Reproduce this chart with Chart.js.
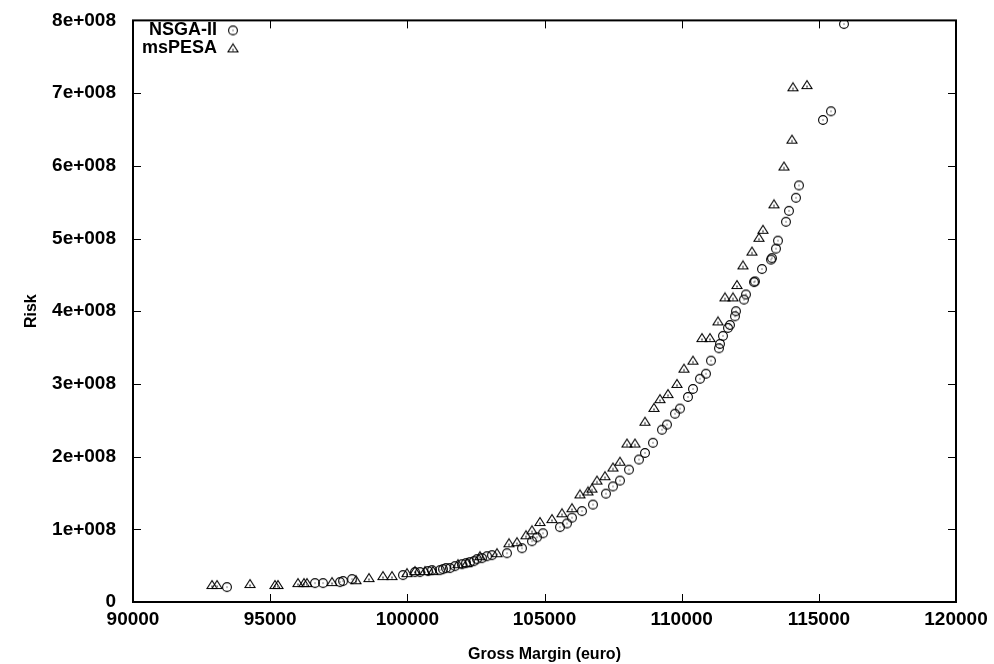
<!DOCTYPE html>
<html>
<head>
<meta charset="utf-8">
<script src="https://cdn.jsdelivr.net/npm/chart.js@4.4.0/dist/chart.umd.min.js"></script>
<style>
  html, body { margin: 0; padding: 0; background: #fff; }
  #wrap { width: 994px; height: 664px; }
</style>
</head>
<body>
<div id="wrap"><canvas id="paretoChart"></canvas></div>
<script>
// Pareto fronts: gross margin vs risk

const nsgaX = [93426, 96634, 96926, 97545, 97655, 97983, 99842, 100279, 100461, 100753,
  100899, 101190, 101300, 101409, 101555, 101737, 101992, 102138, 102284, 102429,
  102539, 102721, 102903, 103086, 103632, 104179, 104544, 104726, 104945, 105564,
  105819, 106002, 106366, 106767, 107241, 107496, 107751, 108079, 108444, 108662,
  108954, 109282, 109464, 109756, 109938, 110230, 110412, 110667, 110886, 111068,
  111360, 111396, 111506, 111688, 111761, 111943, 111979, 112271, 112344, 112635,
  112672, 112927, 113255, 113292, 113437, 113510, 113802, 113911, 114166, 114276,
  115150, 115442, 115916];
const nsgaY = [2.05e7, 2.6e7, 2.6e7, 2.74e7, 2.88e7, 3.15e7, 3.7e7, 4.11e7, 4.11e7, 4.25e7,
  4.38e7, 4.38e7, 4.52e7, 4.66e7, 4.66e7, 4.93e7, 5.2e7, 5.34e7, 5.48e7, 5.62e7,
  5.89e7, 6.03e7, 6.3e7, 6.44e7, 6.71e7, 7.4e7, 8.36e7, 8.9e7, 9.45e7, 1.03e8,
  1.08e8, 1.16e8, 1.25e8, 1.34e8, 1.49e8, 1.59e8, 1.67e8, 1.82e8, 1.96e8, 2.05e8,
  2.19e8, 2.37e8, 2.44e8, 2.59e8, 2.66e8, 2.82e8, 2.93e8, 3.07e8, 3.14e8, 3.32e8,
  3.49e8, 3.55e8, 3.66e8, 3.77e8, 3.81e8, 3.93e8, 4.0e8, 4.16e8, 4.23e8, 4.4e8,
  4.41e8, 4.58e8, 4.71e8, 4.73e8, 4.86e8, 4.97e8, 5.23e8, 5.38e8, 5.56e8, 5.73e8,
  6.63e8, 6.75e8, 7.95e8];

const pesaX = [92880, 93062, 94265, 95176, 95285, 96014, 96233, 96342, 97254, 98128,
  98602, 99113, 99441, 99987, 100279, 100643, 100935, 101846, 102174, 102648,
  103268, 103705, 103997, 104325, 104544, 104835, 105273, 105637, 106002, 106293,
  106585, 106731, 106913, 107204, 107496, 107751, 108006, 108298, 108662, 108990,
  109209, 109500, 109829, 110084, 110412, 110740, 111032, 111323, 111578, 111870,
  112016, 112235, 112563, 112818, 112964, 113365, 113729, 114021, 114058, 114567];
const pesaY = [2.33e7, 2.33e7, 2.47e7, 2.33e7, 2.33e7, 2.6e7, 2.6e7, 2.6e7, 2.74e7, 3.0e7,
  3.29e7, 3.56e7, 3.56e7, 3.97e7, 4.25e7, 4.25e7, 4.25e7, 5.2e7, 5.34e7, 6.3e7,
  6.71e7, 8.08e7, 8.22e7, 9.18e7, 9.86e7, 1.1e8, 1.14e8, 1.22e8, 1.29e8, 1.48e8,
  1.52e8, 1.56e8, 1.67e8, 1.73e8, 1.85e8, 1.93e8, 2.18e8, 2.18e8, 2.48e8, 2.67e8,
  2.79e8, 2.86e8, 3.0e8, 3.21e8, 3.32e8, 3.63e8, 3.63e8, 3.86e8, 4.19e8, 4.19e8,
  4.36e8, 4.63e8, 4.82e8, 5.01e8, 5.12e8, 5.47e8, 5.99e8, 6.36e8, 7.08e8, 7.11e8];

const seriesNames = ['NSGA-II', 'msPESA'];
const xTitle = 'Gross Margin (euro)';
const yTitle = 'Risk';

const FONT = '"Liberation Sans", Arial, sans-serif';

// gnuplot-like point symbols
function circleMark() {
    const c = document.createElement('canvas');
    c.width = 12; c.height = 12;
    const g = c.getContext('2d');
    g.strokeStyle = '#000';
    g.lineWidth = 1.1;
    g.beginPath();
    g.arc(6, 6, 4.4, 0, Math.PI * 2);
    g.stroke();
    g.fillStyle = '#000';
    g.fillRect(5.5, 5.5, 1, 1);
    return c;
}

function triangleMark() {
    const c = document.createElement('canvas');
    c.width = 12; c.height = 12;
    const g = c.getContext('2d');
    g.strokeStyle = '#000';
    g.lineWidth = 1.1;
    g.beginPath();
    g.moveTo(6, 1.5);
    g.lineTo(1, 9.5);
    g.lineTo(11, 9.5);
    g.closePath();
    g.stroke();
    g.fillStyle = '#777';
    g.fillRect(5, 6.5, 2, 2);
    return c;
}

const marks = [circleMark(), triangleMark()];

function toPoints(xs, ys) {
    return xs.map((x, i) => ({ x: x, y: ys[i] }));
}

function expLabel(v) {
    if (v === 0) return '0';
    return Math.round(v / 1e8) + 'e+008';
}

// border box, inward ticks on all four sides, legend in the top-left corner
const framePlugin = {
    id: 'frame',
    afterDraw(chart) {
        const ctx = chart.ctx;
        const a = chart.chartArea;
        const xs = chart.scales.x;
        const ys = chart.scales.y;
        const len = 8;
        ctx.save();
        ctx.strokeStyle = '#000';
        ctx.lineWidth = 2;
        ctx.strokeRect(a.left, a.top, a.right - a.left, a.bottom - a.top);
        ctx.lineWidth = 1;
        ctx.beginPath();
        xs.ticks.forEach(t => {
            const p = Math.round(xs.getPixelForValue(t.value)) + 0.5;
            ctx.moveTo(p, a.bottom); ctx.lineTo(p, a.bottom - len);
            ctx.moveTo(p, a.top); ctx.lineTo(p, a.top + len);
        });
        ys.ticks.forEach(t => {
            const p = Math.round(ys.getPixelForValue(t.value)) + 0.5;
            ctx.moveTo(a.left, p); ctx.lineTo(a.left + len, p);
            ctx.moveTo(a.right, p); ctx.lineTo(a.right - len, p);
        });
        ctx.stroke();

        ctx.font = 'bold 18px ' + FONT;
        ctx.fillStyle = '#000';
        ctx.textAlign = 'right';
        ctx.textBaseline = 'middle';
        chart.data.datasets.forEach((ds, i) => {
            const y = a.top + 10 + i * 18;
            ctx.fillText(ds.label, a.left + 84, y);
            ctx.drawImage(ds.pointStyle, a.left + 94, y - 6);
        });
        ctx.restore();
    }
};

document.addEventListener('DOMContentLoaded', function() {
    const canvas = document.getElementById('paretoChart');
    const ctx = canvas.getContext('2d');

    new Chart(ctx, {
        type: 'scatter',
        data: {
            datasets: [
                {
                    label: seriesNames[0],
                    data: toPoints(nsgaX, nsgaY),
                    pointStyle: marks[0],
                    pointRadius: 5
                },
                {
                    label: seriesNames[1],
                    data: toPoints(pesaX, pesaY),
                    pointStyle: marks[1],
                    pointRadius: 5
                }
            ]
        },
        options: {
            responsive: true,
            maintainAspectRatio: false,
            animation: false,
            layout: {
                padding: { left: 22, right: 38, top: 18, bottom: 0 }
            },
            scales: {
                x: {
                    type: 'linear',
                    min: 90000,
                    max: 120000,
                    grid: { display: false },
                    border: { display: false },
                    ticks: {
                        stepSize: 5000,
                        color: '#000',
                        padding: -2,
                        maxRotation: 0,
                        font: { family: FONT, size: 19, weight: 'bold' },
                        callback: v => String(v)
                    },
                    title: {
                        display: true,
                        text: xTitle,
                        color: '#000',
                        padding: { top: 6, bottom: 0 },
                        font: { family: FONT, size: 16, weight: 'bold' }
                    },
                    afterFit: s => { s.height = 62; }
                },
                y: {
                    type: 'linear',
                    min: 0,
                    max: 8e8,
                    grid: { display: false },
                    border: { display: false },
                    ticks: {
                        stepSize: 1e8,
                        color: '#000',
                        padding: 9,
                        font: { family: FONT, size: 19, weight: 'bold' },
                        callback: v => expLabel(v)
                    },
                    title: {
                        display: true,
                        text: yTitle,
                        color: '#000',
                        padding: 0,
                        font: { family: FONT, size: 16, weight: 'bold' }
                    },
                    afterFit: s => { s.width = 111; }
                }
            },
            plugins: {
                legend: { display: false },
                tooltip: { enabled: false }
            }
        },
        plugins: [framePlugin]
    });
});
</script>
</body>
</html>
